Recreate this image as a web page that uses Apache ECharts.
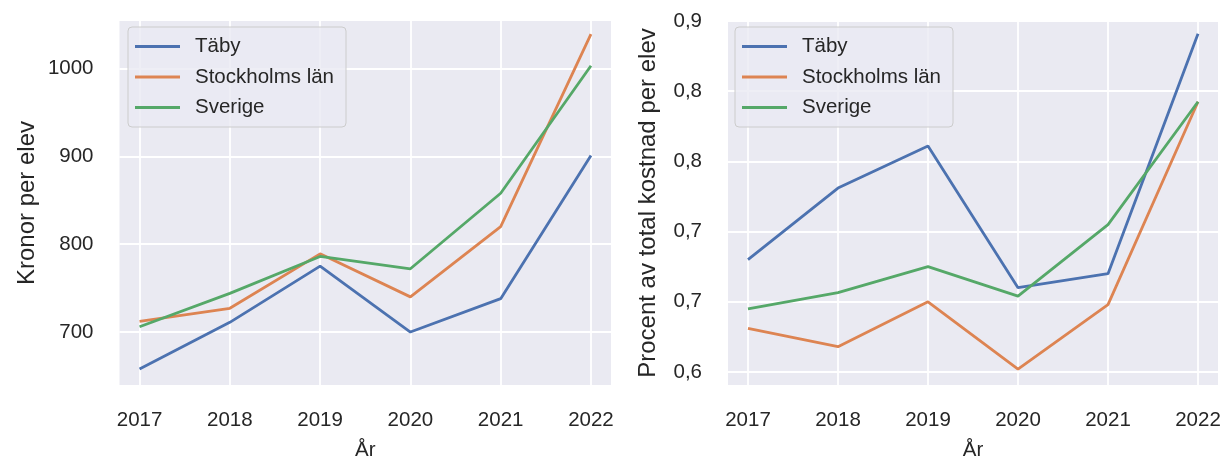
<!DOCTYPE html>
<html>
<head>
<meta charset="utf-8">
<script src="https://cdn.jsdelivr.net/npm/echarts@6/dist/echarts.min.js"></script>
<style>
html,body{margin:0;padding:0;background:#fff;}
#chart{width:1221px;height:461px;}
</style>
</head>
<body>
<div id="chart"></div>
<script>
const years = [2017, 2018, 2019, 2020, 2021, 2022];
const seriesNames = ['Täby', 'Stockholms län', 'Sverige'];
// Left: Kronor per elev
const kronorTaby = [658, 711, 775, 700, 738, 901];
const kronorStockholm = [712, 727, 789, 740, 820, 1039];
const kronorSverige = [706, 744, 786, 772, 858, 1003];
// Right: Procent av total kostnad per elev
const procentTaby = [0.680, 0.731, 0.761, 0.660, 0.670, 0.841];
const procentStockholm = [0.631, 0.618, 0.650, 0.602, 0.648, 0.7925];
const procentSverige = [0.645, 0.6565, 0.675, 0.654, 0.705, 0.7925];
// Tick values and labels
const leftYTicks = [700, 800, 900, 1000];
const leftYTickLabels = ['700', '800', '900', '1000'];
const rightYTicks = [0.60, 0.65, 0.70, 0.75, 0.80, 0.85];
const rightYTickLabels = ['0,6', '0,7', '0,7', '0,8', '0,8', '0,9'];

const colors = ['#4C72B0', '#DD8452', '#55A868'];
const textColor = '#262626';
const fontFamily = '"Liberation Sans", Arial, sans-serif';
const fs = 20.5;
const nameFs = 24;

function xAxisDef(gridIndex) {
  return {
    type: 'value', gridIndex: gridIndex,
    min: 2016.778, max: 2022.222,
    name: 'År', nameLocation: 'middle', nameGap: 55,
    nameTextStyle: {color: textColor, fontSize: fs, fontFamily: fontFamily},
    axisLine: {show: false}, axisTick: {show: false, customValues: years},
    axisLabel: {customValues: years, color: textColor, fontSize: fs, fontFamily: fontFamily, margin: 25,
      formatter: v => String(v)},
    splitLine: {show: true, customValues: years, lineStyle: {color: '#ffffff', width: 1.8}}
  };
}
function yAxisDef(gridIndex, min, max, ticks, labels, name, gap) {
  return {
    type: 'value', gridIndex: gridIndex, min: min, max: max,
    name: name, nameLocation: 'middle', nameGap: gap, nameRotate: 90,
    nameTextStyle: {color: textColor, fontSize: nameFs, fontFamily: fontFamily},
    axisLine: {show: false}, axisTick: {show: false, customValues: ticks},
    axisLabel: {customValues: ticks, color: textColor, fontSize: fs, fontFamily: fontFamily, margin: 26,
      formatter: v => { const i = ticks.findIndex(t => Math.abs(t - v) < 1e-9); return i >= 0 ? labels[i] : ''; }},
    splitLine: {show: true, customValues: ticks, lineStyle: {color: '#ffffff', width: 1.8}}
  };
}
function pairs(vals) { return years.map((y, i) => [y, vals[i]]); }
function lineSeries(name, vals, idx, axisIdx) {
  return {
    type: 'line', name: name, xAxisIndex: axisIdx, yAxisIndex: axisIdx,
    data: pairs(vals), showSymbol: false, symbol: 'none',
    lineStyle: {color: colors[idx], width: 2.8}, itemStyle: {color: colors[idx]},
    emphasis: {disabled: true}, silent: true
  };
}
function legendDef(left) {
  return {
    orient: 'vertical', left: left, top: 27, data: seriesNames,
    icon: 'rect', itemWidth: 45, itemHeight: 3, itemGap: 9.5,
    padding: [9, 12, 9, 7],
    backgroundColor: 'rgba(234,234,242,0.8)', borderColor: '#cccccc', borderWidth: 1, borderRadius: 4,
    textStyle: {color: textColor, fontSize: fs, fontFamily: fontFamily, padding: [0, 0, 0, 10]},
    selectedMode: false
  };
}

const chart = echarts.init(document.getElementById('chart'), null, {renderer: 'canvas'});
chart.setOption({
  animation: false,
  backgroundColor: '#ffffff',
  grid: [
    {left: 119.5, right: 610, top: 21, bottom: 76, show: true, backgroundColor: '#EAEAF2', borderWidth: 0, outerBoundsMode: 'none', containLabel: false},
    {left: 728, right: 3, top: 21, bottom: 76, show: true, backgroundColor: '#EAEAF2', borderWidth: 0, outerBoundsMode: 'none', containLabel: false}
  ],
  legend: [legendDef(128), legendDef(735)],
  xAxis: [xAxisDef(0), xAxisDef(1)],
  yAxis: [
    yAxisDef(0, 639.7, 1054, leftYTicks, leftYTickLabels, 'Kronor per elev', 80),
    yAxisDef(1, 0.5907, 0.85, rightYTicks, rightYTickLabels, 'Procent av total kostnad per elev', 68)
  ],
  series: [
    lineSeries(seriesNames[0], kronorTaby, 0, 0),
    lineSeries(seriesNames[1], kronorStockholm, 1, 0),
    lineSeries(seriesNames[2], kronorSverige, 2, 0),
    lineSeries(seriesNames[0], procentTaby, 0, 1),
    lineSeries(seriesNames[1], procentStockholm, 1, 1),
    lineSeries(seriesNames[2], procentSverige, 2, 1)
  ]
});
</script>
</body>
</html>
